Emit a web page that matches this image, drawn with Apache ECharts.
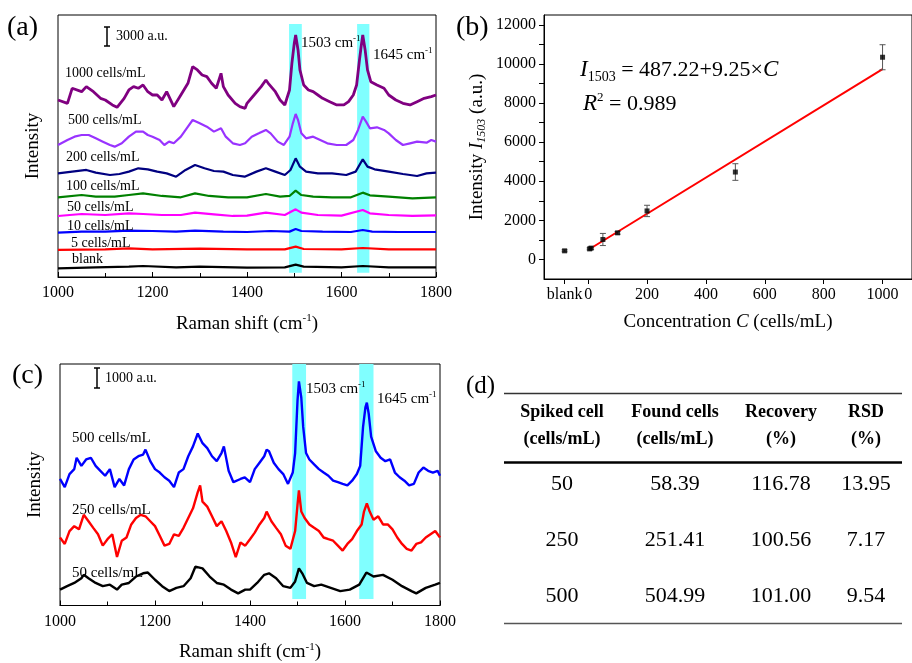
<!DOCTYPE html>
<html>
<head>
<meta charset="utf-8">
<script src="https://cdn.jsdelivr.net/npm/echarts@6/dist/echarts.min.js"></script>
<style>
  html, body { margin: 0; padding: 0; background: #fff; }
  #main { width: 912px; height: 663px; }
</style>
</head>
<body>
<div id="main"></div>
<script>
// ---- panel (a): SERS spectra, values in a.u. (stacked with offsets as drawn)
var specA1000 = [[1000,27700],[1020,27180],[1030,29530],[1050,29000],[1060,29790],[1075,29000],[1090,27960],[1100,27700],[1115,26920],[1125,26550],[1140,27960],[1150,29270],[1160,29790],[1170,29530],[1180,30050],[1190,29000],[1200,28480],[1210,28480],[1220,27700],[1230,29000],[1245,26660],[1260,28480],[1275,30310],[1285,32920],[1295,32400],[1305,31610],[1315,31350],[1325,30310],[1335,29530],[1345,31870],[1350,29790],[1360,28480],[1375,27180],[1385,26660],[1396,26400],[1400,27180],[1415,28480],[1430,29790],[1440,30830],[1445,30310],[1460,29000],[1470,27700],[1480,26920],[1490,29270],[1495,33440],[1500,36570],[1503,37870],[1508,35530],[1512,32400],[1520,30050],[1530,29270],[1540,29000],[1550,28480],[1560,27960],[1575,27440],[1590,26920],[1605,26920],[1615,27440],[1625,28480],[1632,30050],[1638,33960],[1642,36310],[1645,37870],[1650,35530],[1655,32400],[1662,30570],[1675,30050],[1690,29530],[1700,28480],[1715,27700],[1730,27180],[1745,26920],[1760,27440],[1775,27960],[1790,28220],[1800,28480]];
var specA500 = [[1000,20660],[1020,21440],[1035,21960],[1050,22220],[1065,22220],[1080,21700],[1095,21180],[1110,20660],[1120,20400],[1135,20920],[1150,21960],[1165,22750],[1180,22750],[1190,22220],[1200,21960],[1215,21440],[1225,20660],[1235,21180],[1245,20920],[1260,21960],[1275,23530],[1285,24570],[1300,24050],[1315,23530],[1330,22750],[1345,23270],[1355,21960],[1370,20920],[1385,20660],[1396,20920],[1410,21960],[1425,22480],[1440,23010],[1450,22480],[1465,21180],[1478,20660],[1490,21960],[1497,24050],[1503,25510],[1508,24570],[1515,22480],[1525,21700],[1540,21960],[1555,21440],[1570,20920],[1590,20660],[1610,20660],[1625,21440],[1635,23010],[1645,25090],[1652,24310],[1660,23270],[1675,23420],[1690,23010],[1700,22480],[1715,21440],[1730,20660],[1745,20920],[1760,21180],[1780,21020],[1790,21440],[1800,21180]];
var specA200 = [[1000,16220],[1030,16490],[1060,16750],[1080,16330],[1110,15960],[1130,16120],[1150,16490],[1170,17010],[1190,16850],[1210,16490],[1230,16220],[1250,15700],[1270,16750],[1290,17530],[1310,17010],[1330,16590],[1350,16490],[1370,15960],[1395,15700],[1420,16490],[1440,17010],[1460,16490],[1480,15960],[1492,16750],[1503,18570],[1512,17270],[1525,16490],[1550,16220],[1580,16220],[1610,15960],[1630,16490],[1645,18420],[1655,17270],[1670,16850],[1700,16490],[1730,16120],[1760,15810],[1780,16220],[1800,16330]];
var specA100 = [[1000,12470],[1050,12830],[1080,12570],[1120,12570],[1150,12830],[1180,13090],[1220,12680],[1260,12470],[1290,13090],[1320,12680],[1360,12470],[1400,12470],[1440,12990],[1470,12570],[1490,12680],[1503,13510],[1515,12830],[1540,12570],[1580,12470],[1620,12470],[1645,13200],[1660,12780],[1700,12570],[1750,12310],[1800,12470]];
var specA50 = [[1000,9550],[1050,9860],[1100,9700],[1150,9960],[1180,9860],[1220,9700],[1260,9700],[1290,10070],[1330,9810],[1370,9550],[1400,9600],[1440,10070],[1480,9700],[1503,10590],[1515,10070],[1550,9700],[1600,9600],[1645,10490],[1660,9960],[1700,9700],[1750,9550],[1800,9650]];
var specA10 = [[1000,6940],[1050,7100],[1100,7100],[1150,7250],[1200,7200],[1250,7100],[1290,7250],[1350,7100],[1400,7040],[1450,7200],[1490,7100],[1503,7510],[1515,7200],[1560,7100],[1620,7040],[1645,7360],[1665,7100],[1720,7040],[1800,7040]];
var specA5 = [[1000,4230],[1100,4330],[1150,4490],[1200,4330],[1300,4430],[1400,4330],[1480,4330],[1503,4750],[1520,4380],[1600,4330],[1645,4540],[1700,4330],[1800,4330]];
var specABlank = [[1000,1360],[1080,1510],[1150,1620],[1180,1720],[1250,1510],[1300,1620],[1400,1460],[1480,1510],[1503,1930],[1520,1620],[1600,1510],[1645,1720],[1700,1510],[1800,1510]];
var namesA = ['1000 cells/mL','500 cells/mL','200 cells/mL','100 cells/mL','50 cells/mL','10 cells/mL','5 cells/mL','blank'];
var colorsA = ['#800080','#9933ff','#000080','#008000','#ff00ff','#0000ff','#ff0000','#000000'];
var bandsA = [[1489,1516],[1633,1659]];
var bandYA = [670, 39580];

// ---- panel (b): calibration
var concX = [-80, 5, 10, 50, 100, 200, 500, 1000];
var concY = [440, 540, 580, 1020, 1360, 2480, 4470, 10340];
var concErr = [50, 50, 60, 310, 70, 290, 425, 640];
var fitX = [5, 1000];
var fitY = [533.5, 9737.2];
var xTicksB = [-80, 0, 200, 400, 600, 800, 1000];
var yLabelsB = [0, 2000, 4000, 6000, 8000, 10000, 12000];
var yTicksB = [0, 1000, 2000, 3000, 4000, 5000, 6000, 7000, 8000, 9000, 10000, 11000, 12000];

// ---- panel (c): spiked samples
var specC500 = [[1000,6680],[1010,6250],[1020,6940],[1030,7200],[1035,7800],[1045,7370],[1055,7710],[1065,7800],[1075,7370],[1085,7110],[1095,6850],[1105,7200],[1115,6250],[1125,6680],[1135,6340],[1145,7200],[1155,7710],[1165,7880],[1175,7970],[1180,8230],[1190,7620],[1200,7200],[1210,7020],[1220,6770],[1230,6590],[1240,6250],[1250,7020],[1260,7200],[1270,7880],[1280,8400],[1290,9080],[1300,8570],[1310,8310],[1320,7880],[1330,7620],[1340,8050],[1345,8400],[1355,7110],[1365,6510],[1380,6680],[1389,6770],[1400,6510],[1410,7200],[1420,7540],[1430,7880],[1435,8230],[1440,8140],[1450,7540],[1460,7200],[1470,6940],[1480,6420],[1490,7020],[1495,8050],[1500,10800],[1503,11830],[1508,10970],[1512,9430],[1518,8050],[1525,7710],[1535,7450],[1545,7200],[1555,7020],[1565,6850],[1575,6590],[1585,6510],[1595,6420],[1605,6340],[1615,6590],[1625,6940],[1632,7370],[1638,9430],[1643,10460],[1646,10710],[1650,10110],[1655,8910],[1665,8140],[1675,7800],[1685,7620],[1695,7710],[1705,7020],[1715,6770],[1725,6590],[1735,6340],[1745,6420],[1755,7020],[1765,7280],[1775,7110],[1785,7020],[1795,7110],[1800,6850]];
var specC250 = [[1000,3590],[1010,3250],[1020,3930],[1030,4190],[1040,4020],[1050,4790],[1060,4450],[1070,4100],[1080,3760],[1090,3160],[1100,3500],[1110,3760],[1120,2560],[1130,3420],[1140,3590],[1150,4280],[1160,4620],[1170,4790],[1180,4710],[1190,4450],[1200,4190],[1210,3680],[1220,3160],[1230,3250],[1240,3760],[1250,3680],[1260,4100],[1270,4620],[1280,5130],[1290,5990],[1295,6340],[1300,5480],[1310,5220],[1320,4710],[1330,4190],[1340,4450],[1350,3930],[1360,3330],[1370,2560],[1380,3330],[1390,3160],[1400,3500],[1410,3850],[1420,4280],[1430,4620],[1435,4960],[1445,4450],[1455,4100],[1465,3760],[1475,3160],[1485,2990],[1495,3930],[1500,5310],[1503,6080],[1508,4960],[1515,4620],[1525,4280],[1535,4100],[1545,3930],[1555,3590],[1565,3500],[1575,3420],[1585,3160],[1595,2900],[1605,3250],[1615,3500],[1625,3930],[1635,4280],[1640,4960],[1646,5390],[1652,4960],[1660,4530],[1670,4710],[1680,4280],[1690,4280],[1700,4020],[1710,3590],[1720,3250],[1730,2990],[1740,2900],[1750,3250],[1760,3330],[1770,3590],[1780,3760],[1790,3930],[1800,3590]];
var specC50 = [[1000,840],[1015,1020],[1030,1190],[1045,1440],[1050,1620],[1060,1440],[1075,1190],[1090,1020],[1105,1100],[1120,840],[1130,1100],[1145,1190],[1160,1530],[1175,1700],[1185,1740],[1200,1360],[1215,1020],[1230,760],[1245,930],[1260,1020],[1275,1440],[1285,2050],[1300,1960],[1315,1530],[1330,1190],[1345,1100],[1360,840],[1375,640],[1390,840],[1400,840],[1415,1190],[1430,1620],[1440,1700],[1455,1440],[1470,1020],[1485,930],[1495,1270],[1503,1960],[1510,1700],[1520,1190],[1535,1020],[1550,1100],[1570,930],[1590,760],[1610,840],[1630,1100],[1645,1740],[1660,1530],[1680,1620],[1700,1360],[1720,1020],[1740,760],[1750,640],[1770,930],[1790,1100],[1800,1190]];
var namesC = ['500 cells/mL','250 cells/mL','50 cells/mL'];
var colorsC = ['#0000ff','#ff0000','#000000'];
var bandsC = [[1489,1518],[1630,1660]];
var bandYC = [345, 12750];

// ---- panel (d): recovery table
var tableHead1 = ['Spiked cell','Found cells','Recovery','RSD'];
var tableHead2 = ['(cells/mL)','(cells/mL)','(%)','(%)'];
var spiked = ['50','250','500'];
var found = ['58.39','251.41','504.99'];
var recovery = ['116.78','100.56','101.00'];
var rsd = ['13.95','7.17','9.54'];

var FONT = '"Liberation Serif", "Times New Roman", serif';

function txt(x, y, text, size, extra) {
  var st = { text: text, fill: '#000', font: size + 'px ' + FONT, align: 'left', verticalAlign: 'middle' };
  if (extra) { for (var k in extra) st[k] = extra[k]; }
  return { type: 'text', x: x, y: y, style: st, z: 100 };
}
function seg(x1, y1, x2, y2, w, c) {
  return { type: 'line', shape: { x1: x1, y1: y1, x2: x2, y2: y2 }, style: { stroke: c || '#000', lineWidth: w || 1 }, z: 100 };
}
var supRich = {
  m: { fontFamily: FONT, fontSize: 15, lineHeight: 18 },
  s: { fontFamily: FONT, fontSize: 9, verticalAlign: 'top', lineHeight: 18 }
};

function bandArea(bands, ys) {
  return bands.map(function (b) {
    return [{ coord: [b[0], ys[0]] }, { coord: [b[1], ys[1]] }];
  });
}

function errBar(params, api) {
  var x = api.value(0), y = api.value(1), e = api.value(2);
  var t = api.coord([x, y + e]), b = api.coord([x, y - e]);
  var st = { stroke: '#555', lineWidth: 1 };
  return { type: 'group', children: [
    { type: 'line', shape: { x1: t[0], y1: t[1], x2: b[0], y2: b[1] }, style: st },
    { type: 'line', shape: { x1: t[0] - 3, y1: t[1], x2: t[0] + 3, y2: t[1] }, style: st },
    { type: 'line', shape: { x1: b[0] - 3, y1: b[1], x2: b[0] + 3, y2: b[1] }, style: st }
  ] };
}

var specsA = [specA1000, specA500, specA200, specA100, specA50, specA10, specA5, specABlank];
var specsC = [specC500, specC250, specC50];

var series = [];
series.push({ type: 'line', xAxisIndex: 0, yAxisIndex: 0, data: [], z: 1, silent: true,
  markArea: { silent: true, itemStyle: { color: '#80ffff' }, data: bandArea(bandsA, bandYA) } });
specsA.forEach(function (d, i) {
  series.push({ type: 'line', name: namesA[i], xAxisIndex: 0, yAxisIndex: 0, data: d, showSymbol: false,
    z: 3, lineStyle: { color: colorsA[i], width: i === 0 ? 2.8 : 2.2 }, itemStyle: { color: colorsA[i] } });
});
series.push({ type: 'line', xAxisIndex: 2, yAxisIndex: 2, data: [], z: 1, silent: true,
  markArea: { silent: true, itemStyle: { color: '#80ffff' }, data: bandArea(bandsC, bandYC) } });
specsC.forEach(function (d, i) {
  series.push({ type: 'line', name: namesC[i], xAxisIndex: 2, yAxisIndex: 2, data: d, showSymbol: false,
    z: 3, lineStyle: { color: colorsC[i], width: 2.4 }, itemStyle: { color: colorsC[i] } });
});
series.push({ type: 'line', xAxisIndex: 1, yAxisIndex: 1, showSymbol: false, z: 3,
  data: fitX.map(function (x, i) { return [x, fitY[i]]; }), lineStyle: { color: '#ff0000', width: 2 } });
series.push({ type: 'custom', xAxisIndex: 1, yAxisIndex: 1, renderItem: errBar, z: 4,
  data: concX.map(function (x, i) { return [x, concY[i], concErr[i]]; }) });
series.push({ type: 'scatter', xAxisIndex: 1, yAxisIndex: 1, symbol: 'rect', symbolSize: 5, z: 5,
  itemStyle: { color: '#000' }, data: concX.map(function (x, i) { return [x, concY[i]]; }) });

function plain(v) { return String(v); }
var labelStyle = { color: '#000', fontFamily: FONT, fontSize: 16, formatter: plain };
var nameRich = {
  a: { fontFamily: FONT, fontSize: 19, lineHeight: 22, color: '#000' },
  s: { fontFamily: FONT, fontSize: 11, verticalAlign: 'top', lineHeight: 22, color: '#000' },
  i: { fontFamily: FONT, fontSize: 19, fontStyle: 'italic', lineHeight: 22, color: '#000' },
  sub: { fontFamily: FONT, fontSize: 12, fontStyle: 'italic', verticalAlign: 'bottom', lineHeight: 22, color: '#000' }
};

function ramanX(idx) {
  return {
    gridIndex: idx, type: 'value', min: 1000, max: 1800, interval: 200,
    name: '{a|Raman shift (cm}{s|-1}{a|)}', nameLocation: 'middle', nameGap: 36,
    nameTextStyle: { rich: nameRich },
    axisLine: { lineStyle: { color: '#000' } },
    axisTick: { inside: true, length: 5, lineStyle: { color: '#000' } },
    minorTick: { show: true, splitNumber: 2, length: 4, lineStyle: { color: '#000' } },
    axisLabel: labelStyle, splitLine: { show: false }
  };
}
function intensityY(idx, max) {
  return {
    gridIndex: idx, type: 'value', min: 0, max: max,
    name: '{a|Intensity}', nameLocation: 'middle', nameGap: 14, nameTextStyle: { rich: nameRich },
    axisLine: { show: false }, axisTick: { show: false }, axisLabel: { show: false }, splitLine: { show: false }
  };
}

var xB = {
  gridIndex: 1, type: 'value', min: -150, max: 1100,
  name: '{a|Concentration }{i|C}{a| (cells/mL)}', nameLocation: 'middle', nameGap: 32,
  nameTextStyle: { rich: nameRich },
  axisLine: { onZero: false, lineStyle: { color: '#000' } },
  axisTick: { length: 5, customValues: xTicksB, lineStyle: { color: '#000' } },
  axisLabel: { color: '#000', fontFamily: FONT, fontSize: 16, customValues: xTicksB,
    formatter: function (v) { return v === -80 ? 'blank' : String(v); } },
  splitLine: { show: false }
};
var yB = {
  gridIndex: 1, type: 'value', min: -1000, max: 12500,
  name: '{a|Intensity }{i|I}{sub|1503}{a| (a.u.)}', nameLocation: 'middle', nameGap: 56,
  nameTextStyle: { rich: nameRich },
  axisLine: { onZero: false, lineStyle: { color: '#000' } },
  axisTick: { length: 5, customValues: yTicksB, lineStyle: { color: '#000' } },
  axisLabel: { color: '#000', fontFamily: FONT, fontSize: 16, customValues: yLabelsB, formatter: plain },
  splitLine: { show: false }
};

var graphic = [];
// panel letters
graphic.push(txt(7, 28, '(a)', 28));
graphic.push(txt(456, 28, '(b)', 28));
graphic.push(txt(12, 376, '(c)', 28));
graphic.push(txt(466, 386, '(d)', 25));
// scale bars
graphic.push(seg(107, 27, 107, 46, 1.5), seg(104, 27, 110, 27, 1.5), seg(104, 46, 110, 46, 1.5));
graphic.push(txt(116, 36, '3000 a.u.', 14));
graphic.push(seg(97, 368, 97, 388, 1.5), seg(94, 368, 100, 368, 1.5), seg(94, 388, 100, 388, 1.5));
graphic.push(txt(105, 378, '1000 a.u.', 14));
// spectrum labels panel (a)
var labAX = [65, 68, 66, 66, 67, 67, 71, 72];
var labAY = [73, 120, 157, 186, 207, 226, 243, 259];
namesA.forEach(function (n, i) { graphic.push(txt(labAX[i], labAY[i], n, 14)); });
var labCY = [438, 510, 573];
namesC.forEach(function (n, i) { graphic.push(txt(72, labCY[i], n, 15)); });
// peak labels
function peak(x, y, t) { return txt(x, y, '{m|' + t + ' cm}{s|-1}', 15, { rich: supRich }); }
graphic.push(peak(301, 43, '1503'), peak(373, 55, '1645'), peak(306, 389, '1503'), peak(377, 399, '1645'));
// equation panel (b)
graphic.push(txt(580, 70, '{i|I}{sub|1503}{n| = 487.22+9.25×}{i|C}', 22, { rich: {
  i: { fontFamily: FONT, fontSize: 23, fontStyle: 'italic', lineHeight: 28 },
  n: { fontFamily: FONT, fontSize: 22, lineHeight: 28 },
  sub: { fontFamily: FONT, fontSize: 14, verticalAlign: 'bottom', lineHeight: 14 }
} }));
graphic.push(txt(583, 104, '{i|R}{s|2}{n| = 0.989}', 22, { rich: {
  i: { fontFamily: FONT, fontSize: 23, fontStyle: 'italic', lineHeight: 26 },
  n: { fontFamily: FONT, fontSize: 22, lineHeight: 26 },
  s: { fontFamily: FONT, fontSize: 13, verticalAlign: 'top', lineHeight: 26 }
} }));
// table panel (d)
var colX = [562, 675, 781, 866];
graphic.push(seg(504, 393.5, 902, 393.5, 1.5, '#333'));
graphic.push(seg(504, 462.5, 902, 462.5, 2.5, '#000'));
graphic.push(seg(504, 623.5, 902, 623.5, 1.5, '#555'));
tableHead1.forEach(function (h, i) {
  graphic.push(txt(colX[i], 412, h, 18, { align: 'center', font: 'bold 18px ' + FONT }));
  graphic.push(txt(colX[i], 439, tableHead2[i], 18, { align: 'center', font: 'bold 18px ' + FONT }));
});
var rowY = [484, 540, 596];
[spiked, found, recovery, rsd].forEach(function (col, c) {
  col.forEach(function (v, r) { graphic.push(txt(colX[c], rowY[r], v, 22, { align: 'center' })); });
});

var option = {
  animation: false,
  backgroundColor: '#fff',
  grid: [
    { left: 58, top: 15, width: 378, height: 262, show: true, borderColor: '#000', borderWidth: 1, containLabel: false },
    { left: 544, top: 15, width: 372, height: 264, show: true, borderColor: '#000', borderWidth: 1, containLabel: false },
    { left: 60, top: 364, width: 380, height: 248, show: true, borderColor: '#000', borderWidth: 1, containLabel: false }
  ],
  xAxis: [ramanX(0), xB, ramanX(2)],
  yAxis: [intensityY(0, 41000), yB, intensityY(2, 12750)],
  series: series,
  graphic: graphic
};

var chartDom = document.getElementById('main');
var myChart = echarts.init(chartDom);
option && myChart.setOption(option);
</script>
</body>
</html>
